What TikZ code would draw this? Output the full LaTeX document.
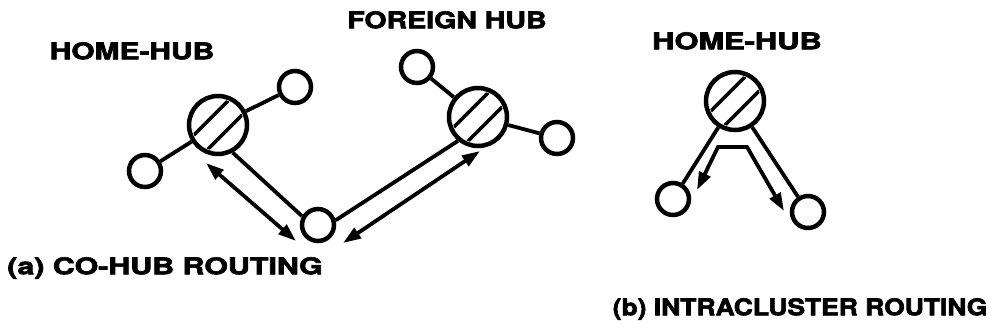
\documentclass[tikz,border=0pt]{standalone}
\usepackage{fontspec}
\usepackage{graphicx}
\usetikzlibrary{arrows.meta,calc}
% heavy sans face for all labels
\newfontfamily\labfont{texgyreheros-bold}[Extension=.otf, FakeBold=2.5]

% two diagonal stripes inside a hub circle
\newcommand\hubhatch[1]{%
  \begin{scope}
    \clip (#1.center) circle (26pt);
    \foreach \d in {-10,10} {
      \draw[line width=3.5pt]
        ($(#1.center)+(\d*0.707-32*0.707, \d*0.707+32*0.707)$) --
        ($(#1.center)+(\d*0.707+32*0.707, \d*0.707-32*0.707)$);
    }
  \end{scope}}

\begin{document}
\begin{tikzpicture}[x=1pt,y=-1pt,
  hub/.style={circle, draw, line width=4.5pt, minimum size=58pt, inner sep=0pt},
  leaf/.style={circle, draw, line width=4.5pt, minimum size=32pt, inner sep=0pt},
  link/.style={line width=3.8pt},
  route/.style={line width=3.8pt,
    {Triangle[length=18pt,width=12pt]}-{Triangle[length=18pt,width=12pt]}},
  lbl/.style={inner sep=0pt, text height=16.5pt, text depth=0pt,
    font=\labfont\fontsize{23pt}{23pt}\selectfont}]
\useasboundingbox (0,0) rectangle (994,332);

% ---- (a) co-hub routing ----
\node[hub]  (hubA) at (218,125) {};
\node[leaf] (a1)   at (295,87)  {};
\node[leaf] (a2)   at (145,171) {};
\node[leaf] (mid)  at (318,225) {};
\node[hub]  (hubF) at (478,117) {};
\node[leaf] (f1)   at (417,67)  {};
\node[leaf] (f2)   at (557,138) {};

\hubhatch{hubA}
\hubhatch{hubF}

\draw[link] (hubA) -- (a1);
\draw[link] (hubA) -- (a2);
\draw[link] (hubA.-62) -- (mid.151);
\draw[link] (hubF) -- (f1);
\draw[link] (hubF) -- (f2);
\draw[link] (hubF.230) -- (mid.15);

\coordinate (pa1) at (206,163);
\coordinate (pa2) at (296,241);
\coordinate (pf1) at (480,151);
\coordinate (pf2) at (343,243);
\draw[route] (pa1) -- (pa2);
\draw[route] (pf1) -- (pf2);

\node[lbl] (homeA)   at (132,51) {\scalebox{1.30}[1]{HOME-HUB}};
\node[lbl] (foreign) at (447,20) {\scalebox{1.24}[1]{FOREIGN HUB}};
\node[lbl] (capA)    at (165,266) {\scalebox{1.32}[1]{(a) CO-HUB ROUTING}};

% ---- (b) intracluster routing ----
\node[hub]  (hubB) at (735,101) {};
\node[leaf] (b1)   at (673,199) {};
\node[leaf] (b2)   at (808,212) {};
\hubhatch{hubB}

\draw[link] (hubB) -- (b1);
\draw[link] (hubB) -- (b2);

\coordinate (r1) at (697,190);
\coordinate (r2) at (718,147);
\coordinate (r3) at (747,147);
\coordinate (r4) at (784,211);
\draw[route] (r1) -- (r2) -- (r3) -- (r4);

\node[lbl] (homeB) at (737,41)  {\scalebox{1.34}[1]{HOME-HUB}};
\node[lbl] (capB)  at (800,307) {\scalebox{1.15}[1]{(b) INTRACLUSTER ROUTING}};
\end{tikzpicture}
\end{document}
